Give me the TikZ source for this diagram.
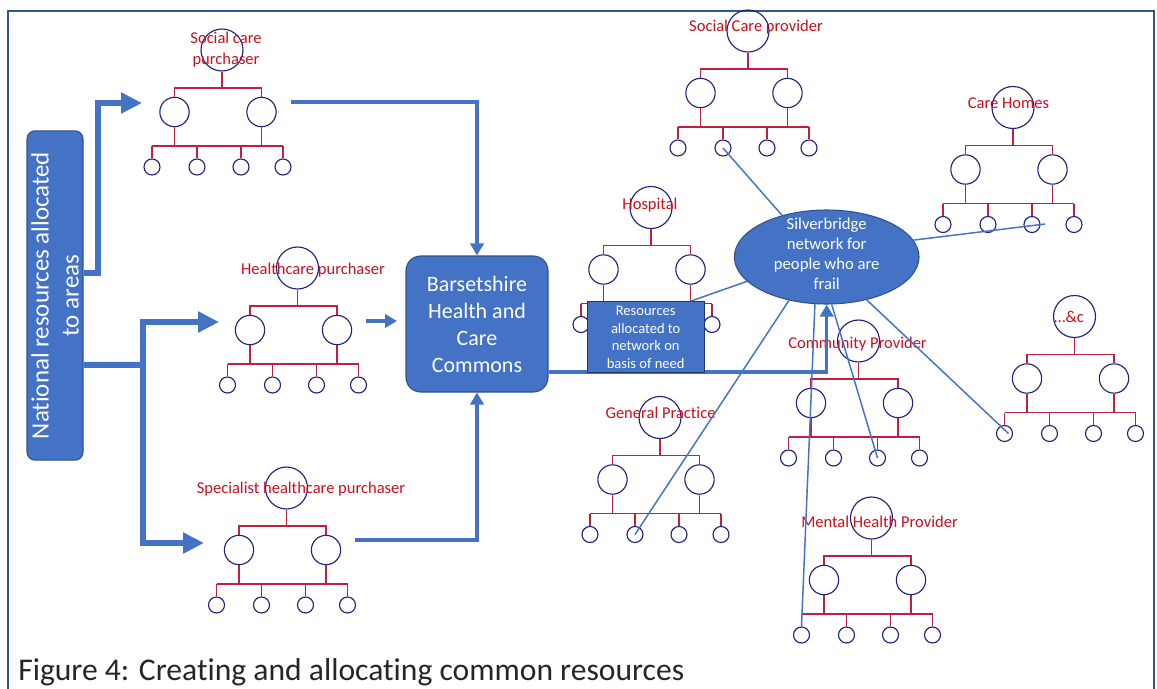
\documentclass[tikz,border=0pt]{standalone}
\usepackage{fontspec}
\setmainfont{Carlito}[Ligatures=NoCommon]
\usetikzlibrary{arrows.meta,shapes.geometric,calc}
\definecolor{boxblue}{HTML}{4472C4}
\definecolor{boxedge}{HTML}{2F528F}
\definecolor{frameblue}{HTML}{2F5597}
\definecolor{orgred}{RGB}{192,32,64}
\definecolor{labred}{RGB}{200,16,30}
\definecolor{navyc}{RGB}{32,32,128}
\definecolor{capgray}{RGB}{38,38,38}
\tikzset{
  topc/.style={circle,draw=navyc,line width=0.85pt,minimum size=31.5pt,inner sep=0pt},
  midc/.style={circle,draw=navyc,line width=0.85pt,minimum size=22pt,inner sep=0pt},
  smc/.style={circle,draw=navyc,line width=0.85pt,minimum size=12pt,inner sep=0pt},
  orgline/.style={draw=orgred,line width=1.1pt},
  lab/.style={text=labred,font=\fontsize{12.4}{15.5}\selectfont,inner sep=0pt,align=center},
  bigarrow/.style={draw=boxblue,line width=4.5pt,-{Triangle[length=15.75pt,width=15pt]}},
  bigline/.style={draw=boxblue,line width=4.5pt},
  medarrow/.style={draw=boxblue,line width=2.5pt,-{Triangle[length=9pt,width=10pt]}},
  thinblue/.style={draw=boxblue,line width=1.1pt},
  whitetext/.style={text=white,align=center,inner sep=0pt},
}
\newcommand\orgchart[3]{%
  \node[topc] (#1-t) at ({#2+4},{#3-62}) {};
  \node[midc] (#1-m1) at ({#2-43.5},#3) {};
  \node[midc] (#1-m2) at ({#2+43.5},#3) {};
  \coordinate (#1-j1) at (#2,{#3-24});
  \coordinate (#1-j2) at (#2,{#3+34});
  \node[smc] (#1-s1) at ({#2-66},{#3+55}) {};
  \node[smc] (#1-s2) at ({#2-21},{#3+55}) {};
  \node[smc] (#1-s3) at ({#2+23},{#3+55}) {};
  \node[smc] (#1-s4) at ({#2+65},{#3+55}) {};
  \draw[orgline] (#1-t.south) -- (#1-t.south |- #1-j1);
  \draw[orgline] (#1-m1.north) -- (#1-m1.north |- #1-j1) -- (#1-m2.north |- #1-j1) -- (#1-m2.north);
  \draw[orgline] (#1-m1.south) -- (#1-m1.south |- #1-j2);
  \draw[orgline] (#1-m2.south) -- (#1-m2.south |- #1-j2);
  \draw[orgline] (#1-s1.north |- #1-j2) -- (#1-s4.north |- #1-j2);
  \foreach \k in {1,...,4} {\draw[orgline] (#1-s\k.north) -- (#1-s\k.north |- #1-j2);}
}
\begin{document}
\begin{tikzpicture}[x=0.75pt,y=-0.75pt]
\useasboundingbox (0,0) rectangle (1157,689);
\fill[white] (0,0) rectangle (1157,689);
\draw[frameblue,line width=1.5pt] (8,11) rectangle (1154,720);

% org charts
\orgchart{scp}{218}{112}
\orgchart{hcp}{293.5}{330}
\orgchart{shp}{282.5}{550}
\orgchart{hosp}{647}{269.5}
\orgchart{scprov}{744}{93}
\orgchart{ch}{1009}{169.5}
\orgchart{etc}{1070.5}{378.5}
\orgchart{gp}{656}{479.5}
\orgchart{cp}{854.5}{403}
\orgchart{mh}{867.5}{580}

% labels
\node[lab] (scp-l) at (226,49.5) {Social care\\purchaser};
\node[lab] (hcp-l) at (313,270) {Healthcare purchaser};
\node[lab] (shp-l) at (301,489) {Specialist healthcare purchaser};
\node[lab] (hosp-l) at (650,205) {Hospital};
\node[lab] (scprov-l) at (756,27) {Social Care provider};
\node[lab] (ch-l) at (1008.5,102.7) {Care Homes};
\node[lab] (etc-l) at (1069,317) {…\&c};
\node[lab] (gp-l) at (660.5,413) {General Practice};
\node[lab] (cp-l) at (857.5,344.3) {Community Provider};
\node[lab] (mh-l) at (879.5,521.7) {Mental Health Provider};

% national box
\node[fill=boxblue,draw=boxedge,line width=0.8pt,rounded corners=6pt,minimum width=42pt,minimum height=247pt,inner sep=0pt] (nat) at (55,295.5) {};
\node[whitetext,rotate=90,font=\fontsize{18.7}{22.5}\selectfont] (nat-txt) at (nat.center) {National resources allocated\\to areas};

% Barsetshire box
\node[fill=boxblue,draw=boxedge,line width=0.8pt,rounded corners=11pt,minimum width=106.5pt,minimum height=102pt,whitetext,font=\fontsize{16.5}{20.25}\selectfont] (bhc) at (477,324) {Barsetshire\\Health and\\Care\\Commons};

% ellipse
\node[ellipse,fill=boxblue,draw=boxedge,line width=0.8pt,minimum width=138.5pt,minimum height=70.5pt,inner sep=0pt] (silv) at (826.7,257) {};
\node[whitetext,font=\fontsize{12.5}{15}\selectfont] (silv-txt) at (826.7,254) {Silverbridge\\network for\\people who are\\frail};

% arrow coordinates
\coordinate (k1) at (98,103);
\coordinate (tip1) at (142,103);
\coordinate (jn) at (143,365);
\coordinate (tip2) at (219,322);
\coordinate (tip3) at (204,543);
\coordinate (c1) at (291,102);
\coordinate (c2) at (366,321);
\coordinate (c2e) at (397,321);
\coordinate (c3) at (355,540);
\coordinate (chend) at (1045,224);

\draw[bigarrow] ([yshift=16.9pt]nat.east) -| (k1) -- (tip1);
\draw[bigline] ([yshift=-52pt]nat.east) -- ([xshift=1.7pt]jn);
\draw[bigarrow] (jn) |- (tip2);
\draw[bigarrow] (jn) |- (tip3);

\draw[medarrow] (c1) -| (bhc.north);
\draw[medarrow] (c2) -- (c2e);
\draw[medarrow] (c3) -| (bhc.south);
\draw[medarrow] ([yshift=-36pt]bhc.east) -| (silv.south);

% resources box
\node[fill=boxblue,draw={rgb,255:red,32;green,56;blue,100},line width=0.8pt,minimum width=87.5pt,minimum height=53.25pt,whitetext,font=\fontsize{10.9}{13.1}\selectfont] (res) at (645.7,337.2) {Resources\\allocated to\\network on\\basis of need};

% thin links
\draw[thinblue] (scprov-s2.center) -- (silv.137);
\draw[thinblue] (silv.11) -- (chend);
\draw[thinblue] ([xshift=-10.5pt]res.north east) -- (silv.197);
\draw[thinblue] (silv.229) -- (gp-s2.center);
\draw[thinblue] (silv.256) -- (mh-s1.north);
\draw[thinblue] (silv.276) -- (cp-s3.center);
\draw[thinblue] (silv.313) -- ([xshift=3pt]etc-s1.center);

% caption
\node[anchor=base west,font=\fontsize{23.7}{28}\selectfont,text=capgray,inner sep=0pt] (cap) at (18,680) {Figure 4: Creating and allocating common resources};
\end{tikzpicture}
\end{document}
